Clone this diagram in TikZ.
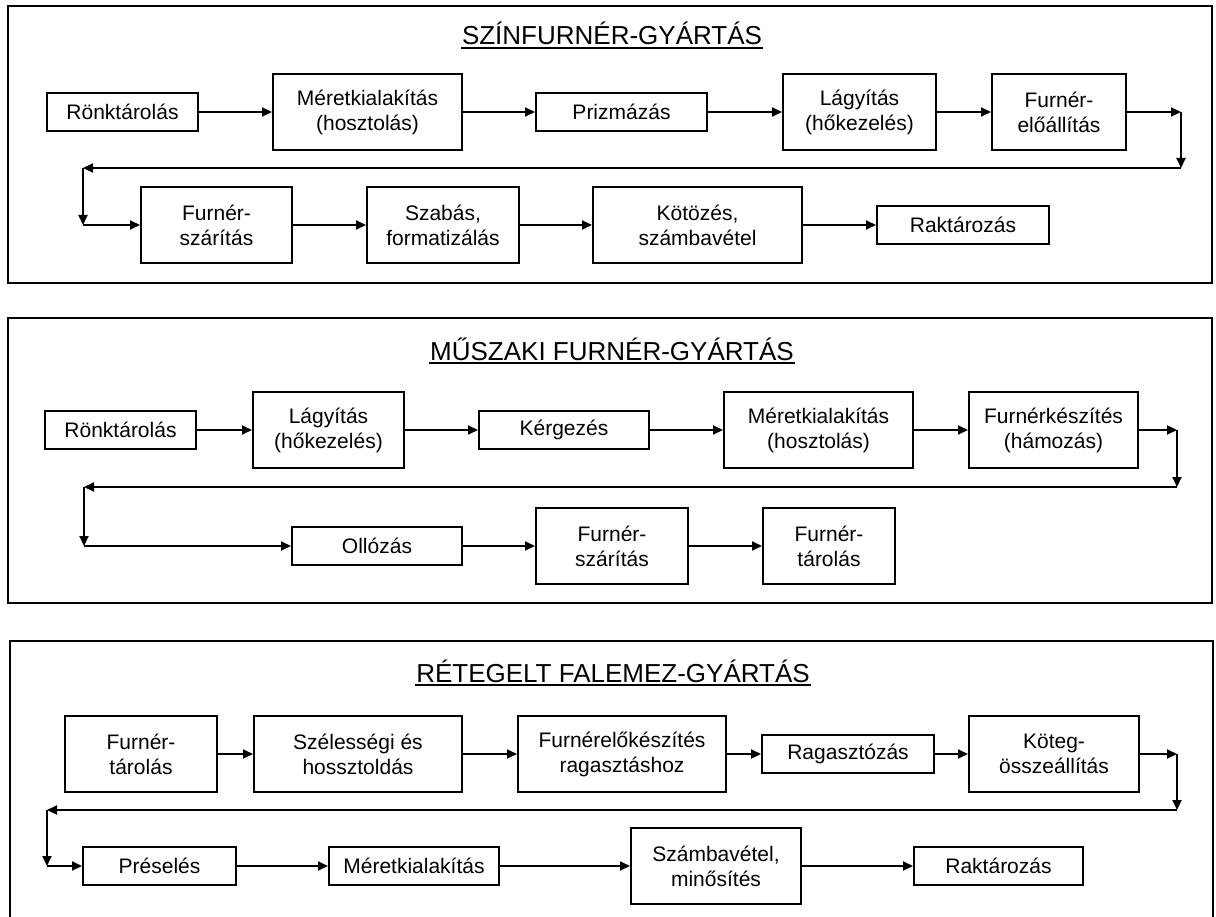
\documentclass[tikz,border=0pt]{standalone}
\usepackage{fontspec}
\setmainfont{Liberation Sans}
\usetikzlibrary{arrows.meta}

\begin{document}
\begin{tikzpicture}[x=1pt,y=-1pt,line width=2pt,
  box/.style={draw,line width=2pt,inner sep=2pt,align=center,minimum height=38pt,
    font=\fontsize{21}{25}\selectfont},
  tall/.style={minimum height=76pt},
  flow/.style={-{Triangle[length=10pt,width=9pt]},line width=2pt},
  frame/.style={line width=2pt},
  title/.style={anchor=base,inner sep=0pt,font=\fontsize{26}{30}\selectfont}]
\useasboundingbox (0,0) rectangle (1216,917);
% sor vege: #1 utolso doboz, #2 kovetkezo sor elso doboza, #3 jobb x, #4 visszater y, #5 bal x
\newcommand{\turnrow}[5]{
  \coordinate (xr) at (#3,#4);
  \coordinate (xl) at (#5,#4);
  \draw[flow] (#1.east) -- (#1.east -| xr);
  \draw[flow] (#1.east -| xr) -- (xr);
  \draw[flow] (xr) -- (xl);
  \draw[flow] (xl) -- (xl |- #2.west);
  \draw[flow] (xl |- #2.west) -- (#2.west);}
% dobozok egymas utan
\newcommand{\chain}[1]{\foreach \p/\q in {#1}{\draw[flow] (\p.east) -- (\q.west);}}
% alahuzott cim
\newcommand{\underrule}[1]{\draw[line width=1.6pt] ([yshift=-2pt]#1.south west) -- ([yshift=-2pt]#1.south east);}
% ---------- szinfurner ----------
\draw[frame] (8,6) rectangle (1212,283);
\node[title] (ttitle) at (612,45) {SZÍNFURNÉR-GYÁRTÁS};
\underrule{ttitle}
\node[box,minimum width=151pt] (t1) at (122.5,112) {Rönktárolás};
\node[box,tall,minimum width=189pt] (t2) at (367.5,112) {Méretkialakítás\\(hosztolás)};
\node[box,minimum width=171pt] (t3) at (621.5,112) {Prizmázás};
\node[box,tall,minimum width=153pt] (t4) at (859.5,112) {Lágyítás\\(hőkezelés)};
\node[box,tall,minimum width=134pt] (t5) at (1059,112) {Furnér-\\előállítás};
\node[box,tall,minimum width=151pt] (t6) at (216.5,225) {Furnér-\\szárítás};
\node[box,tall,minimum width=152pt] (t7) at (443,225) {Szabás,\\formatizálás};
\node[box,tall,minimum width=209pt] (t8) at (697.5,225) {Kötözés,\\számbavétel};
\node[box,minimum width=172pt] (t9) at (963,225) {Raktározás};
\chain{t1/t2,t2/t3,t3/t4,t4/t5,t6/t7,t7/t8,t8/t9}
\turnrow{t5}{t6}{1181}{168}{83}
% ---------- muszaki furner ----------
\draw[frame] (8,318) rectangle (1212,603);
\node[title] (mtitle) at (612,360) {MŰSZAKI FURNÉR-GYÁRTÁS};
\underrule{mtitle}
\node[box,minimum width=151pt] (m1) at (120.5,430) {Rönktárolás};
\node[box,tall,minimum width=151pt] (m2) at (328.5,430) {Lágyítás\\(hőkezelés)};
\node[box,minimum width=170pt] (m3) at (564,430) {Kérgezés};
\node[box,tall,minimum width=189pt] (m4) at (818.5,430) {Méretkialakítás\\(hosztolás)};
\node[box,tall,minimum width=169pt] (m5) at (1053.5,430) {Furnérkészítés\\(hámozás)};
\node[box,minimum width=170pt] (m6) at (377,546) {Ollózás};
\node[box,tall,minimum width=152pt] (m7) at (612,546) {Furnér-\\szárítás};
\node[box,tall,minimum width=132pt] (m8) at (829,546) {Furnér-\\tárolás};
\chain{m1/m2,m2/m3,m3/m4,m4/m5,m6/m7,m7/m8}
\turnrow{m5}{m6}{1177}{487}{84}
% ---------- retegelt falemez ----------
\draw[frame] (10,641) rectangle (1213,940);
\node[title] (btitle) at (613,682) {RÉTEGELT FALEMEZ-GYÁRTÁS};
\underrule{btitle}
\node[box,tall,minimum width=152pt] (b1) at (141,754) {Furnér-\\tárolás};
\node[box,tall,minimum width=208pt] (b2) at (358,754) {Szélességi és\\hossztoldás};
\node[box,tall,minimum width=208pt] (b3) at (622,754) {Furnérelőkészítés\\ragasztáshoz};
\node[box,minimum width=172pt] (b4) at (848,754) {Ragasztózás};
\node[box,tall,minimum width=170pt] (b5) at (1054,754) {Köteg-\\összeállítás};
\node[box,minimum width=153pt] (b6) at (159.5,866) {Préselés};
\node[box,minimum width=170pt] (b7) at (414,866) {Méretkialakítás};
\node[box,tall,minimum width=170pt] (b8) at (716,866) {Számbavétel,\\minősítés};
\node[box,minimum width=169pt] (b9) at (998.5,866) {Raktározás};
\chain{b1/b2,b2/b3,b3/b4,b4/b5,b6/b7,b7/b8,b8/b9}
\turnrow{b5}{b6}{1177}{810}{47}
\end{tikzpicture}
\end{document}
